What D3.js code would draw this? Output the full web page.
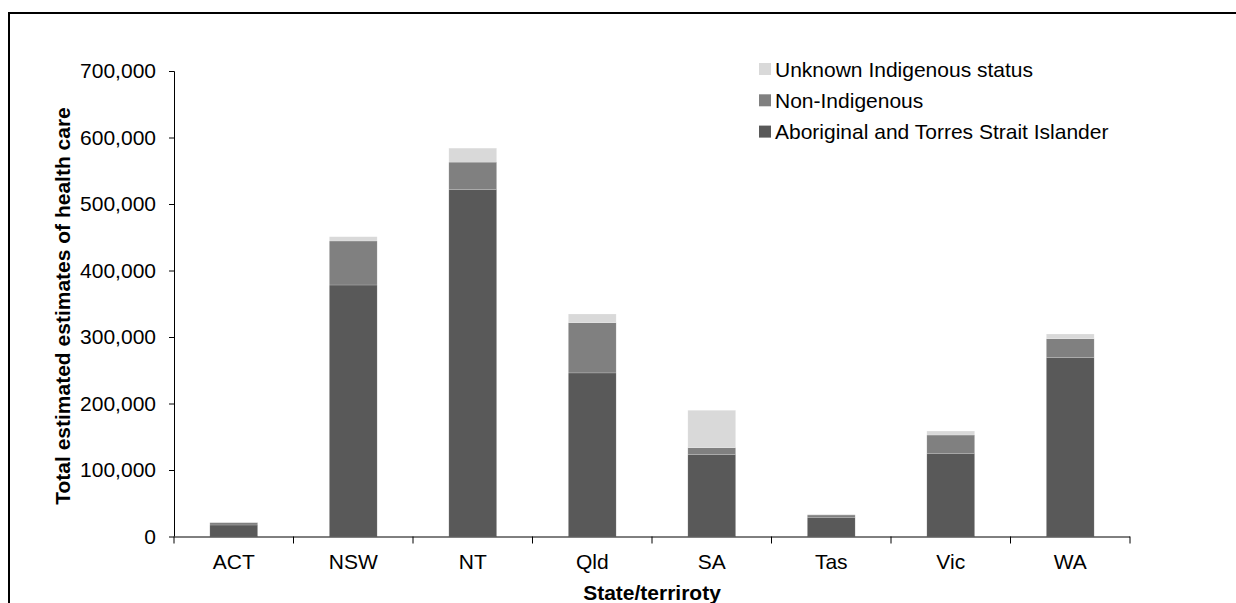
<!DOCTYPE html>
<html>
<head>
<meta charset="utf-8">
<script src="https://cdn.jsdelivr.net/npm/d3@7"></script>
<style>
  html, body { margin: 0; padding: 0; background: #fff; }
  svg { display: block; font-family: Arial, "Liberation Sans", sans-serif; }
</style>
</head>
<body>
<svg id="chart" width="1236" height="603"></svg>
<script>
const categories = ["ACT", "NSW", "NT", "Qld", "SA", "Tas", "Vic", "WA"];
const aboriginal = [17300, 378200, 522000, 246000, 123000, 28900, 125100, 268900];
const nonIndigenous = [3600, 66200, 41000, 75500, 10500, 3500, 27500, 28500];
const unknownStatus = [400, 6400, 21000, 13100, 56300, 1000, 6000, 7100];
const seriesNames = ["Aboriginal and Torres Strait Islander", "Non-Indigenous", "Unknown Indigenous status"];
const seriesColors = ["#595959", "#808080", "#d9d9d9"];
const yTicks = [0, 100000, 200000, 300000, 400000, 500000, 600000, 700000];
const xTitle = "State/terriroty";
const yTitle = "Total estimated estimates of health care";

const svg = d3.select("#chart");

// outer border (left and top visible)
svg.append("path")
  .attr("d", "M9,603 V13 H1236")
  .attr("fill", "none").attr("stroke", "#000").attr("stroke-width", 2);

const x = d3.scaleBand().domain(categories).range([174, 1130]).paddingInner(0.6).paddingOuter(0.3);
const y = d3.scaleLinear().domain([0, 700000]).range([536.5, 71]);

const rows = categories.map((c, i) => ({ cat: c, a: aboriginal[i], n: nonIndigenous[i], u: unknownStatus[i] }));
const stack = d3.stack().keys(["a", "n", "u"]);
const stacked = stack(rows);

const g = svg.append("g");
stacked.forEach((layer, li) => {
  g.selectAll(null).data(layer).enter().append("rect")
    .attr("x", d => x(d.data.cat))
    .attr("width", x.bandwidth())
    .attr("y", d => y(d[1]))
    .attr("height", d => y(d[0]) - y(d[1]))
    .attr("fill", seriesColors[li])
    .attr("stroke", "#ffffff").attr("stroke-width", 0.5).attr("stroke-opacity", 0.35);
});

// Y axis
const yAxis = d3.axisLeft(y).tickValues(yTicks).tickFormat(d3.format(",")).tickSize(5).tickPadding(13);
const yg = svg.append("g").attr("transform", "translate(174,0)").call(yAxis);
yg.select(".domain").attr("stroke", "#000").attr("d", "M-5,71.5H0.5V536.5");
yg.selectAll(".tick line").attr("stroke", "#000");
yg.selectAll(".tick text").attr("font-size", 21).attr("fill", "#000").attr("font-family", "Arial, 'Liberation Sans', sans-serif");

// X axis
const xAxis = d3.axisBottom(x).tickSize(0).tickPadding(18);
const xg = svg.append("g").attr("transform", "translate(0,536.5)").call(xAxis);
xg.select(".domain").attr("stroke", "#000").attr("d", "M174,0.5H1130");
xg.selectAll(".tick text").attr("font-size", 21).attr("fill", "#000").attr("font-family", "Arial, 'Liberation Sans', sans-serif");
const gap = (x.step() - x.bandwidth()) / 2;
const boundaries = categories.map(c => x(c) - gap).concat([x(categories[categories.length - 1]) + x.bandwidth() + gap]);
xg.selectAll(".bt").data(boundaries).enter().append("line")
  .attr("x1", d => d).attr("x2", d => d).attr("y1", 0).attr("y2", 7)
  .attr("stroke", "#000");

// Axis titles
svg.append("text")
  .attr("x", 652).attr("y", 600)
  .attr("text-anchor", "middle").attr("font-weight", "bold").attr("font-size", 21)
  .text(xTitle);
svg.append("text")
  .attr("transform", "translate(70,306) rotate(-90)")
  .attr("text-anchor", "middle").attr("font-weight", "bold").attr("font-size", 21)
  .text(yTitle);

// Legend (reversed order)
const legendOrder = [2, 1, 0];
const lg = svg.append("g");
legendOrder.forEach((si, k) => {
  const cy = 69 + k * 31.3;
  lg.append("rect").attr("x", 759).attr("y", cy - 6).attr("width", 12).attr("height", 12).attr("fill", seriesColors[si]);
  lg.append("text").attr("x", 775).attr("y", cy + 7.5).attr("font-size", 21).attr("fill", "#000").text(seriesNames[si]);
});
</script>
</body>
</html>
